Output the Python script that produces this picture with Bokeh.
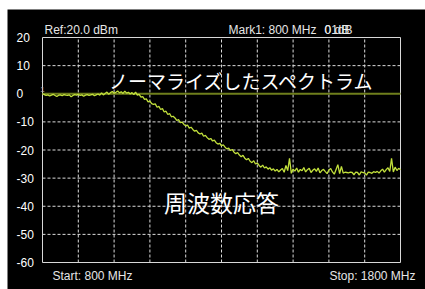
from bokeh.plotting import figure
from bokeh.models import Range1d, Label
from bokeh.embed import file_html
from bokeh.resources import INLINE

# ---- data ----
freq_mhz = list(range(800, 1805, 5))
trace_db = [
    0.0, -0.3, -0.6, -0.4, -0.8, -0.5, -0.2, -0.6, -1.0, -0.5,
    -0.4, -0.7, -0.3, -0.5, -0.6, -0.4, -1.1, -0.6, -0.3, -0.5,
    -0.2, -0.6, -0.4, -0.9, -0.5, -0.3, -0.6, -0.4, -0.2, -0.7,
    -0.4, -0.1, -0.5, 0.3, -0.4, 0.1, 0.6, -0.2, 0.4, 0.8,
    0.2, 0.5, 1.0, 0.3, 0.7, 0.1, 0.9, 0.2, 0.5, -0.1,
    0.4, -0.3, 0.6, -0.5, -0.2, -1.2, -1.0, -2.0, -1.8, -2.9,
    -2.6, -3.5, -3.8, -3.6, -4.8, -4.5, -5.6, -5.3, -6.5, -6.2,
    -7.4, -7.0, -8.2, -8.0, -8.6, -9.5, -9.2, -10.3, -10.1, -10.9,
    -11.4, -11.1, -12.2, -11.9, -12.7, -13.3, -13.0, -13.9, -14.3, -14.0,
    -15.1, -14.8, -15.6, -16.2, -15.9, -16.8, -16.5, -17.4, -17.9, -17.6,
    -18.5, -18.2, -19.0, -19.6, -19.3, -20.2, -19.8, -20.8, -21.3, -20.9,
    -21.8, -22.4, -21.9, -22.9, -23.5, -23.0, -24.0, -24.5, -23.8, -25.0,
    -24.6, -25.5, -26.1, -25.4, -26.4, -26.0, -26.8, -26.3, -27.2, -26.7,
    -27.5, -26.9, -27.8, -27.1, -26.6, -27.9, -25.5, -27.3, -23.0, -28.3,
    -26.8, -27.5, -26.4, -27.9, -26.9, -27.4, -26.2, -27.8, -27.0, -26.5,
    -28.0, -27.2, -26.7, -27.6, -26.4, -28.1, -27.3, -26.9, -27.7, -28.4,
    -27.1, -26.6, -27.8, -28.6, -26.9, -25.2, -28.4, -25.8, -28.2, -27.9,
    -28.0, -28.1, -27.9, -28.0, -28.8, -27.9, -28.0, -28.9, -27.8, -28.0,
    -28.1, -28.9, -27.9, -28.0, -28.3, -27.7, -28.0, -27.6, -28.2, -27.4,
    -26.8, -27.9, -27.0, -26.3, -27.6, -23.0, -27.8, -26.1, -27.3, -26.5,
    -27.0,
]
ref_level_db = 0
y_ticks = [20, 10, 0, -10, -20, -30, -40, -50, -60]
x_grid = [900, 1000, 1100, 1200, 1300, 1400, 1500, 1600, 1700]
y_grid = [10, -10, -20, -30, -40, -50]
start_text = "Start: 800 MHz"
stop_text = "Stop: 1800 MHz"
ref_text = "Ref:20.0 dBm"
mark_text = "Mark1: 800 MHz"
mark_val_a = "0 dB"
mark_val_b = "01dB"
title_top = "ノーマライズしたスペクトラム"
title_bottom = "周波数応答"

# ---- layout (canvas pixels) ----
W, H = 425, 289
BL, BT = 42, 37          # where the trace frame starts on the canvas
FW, FH = 358, 225        # trace frame size
PANEL_L, PANEL_T = 7, 9  # black instrument panel origin
X0, X1 = 800, 1800
Y0, Y1 = -60, 20


def fx(sx):  # canvas px -> data x
    return X0 + (sx - BL) * (X1 - X0) / FW


def fy(sy):  # canvas px -> data y
    return Y1 - (sy - BT) * (Y1 - Y0) / FH


p = figure(width=W, height=H, output_backend="svg", toolbar_location=None,
           x_range=Range1d(fx(0), fx(W)), y_range=Range1d(fy(H), fy(0)),
           min_border=0)
p.background_fill_color = "white"
p.border_fill_color = "white"
p.outline_line_color = None
p.xaxis.visible = False
p.yaxis.visible = False
p.grid.visible = False

# black instrument panel
p.quad(left=[fx(PANEL_L)], right=[fx(W + 2)], bottom=[fy(H + 2)], top=[fy(PANEL_T)],
       fill_color="black", line_color=None)

grid_color = "#dcdcdc"
p.segment(x0=x_grid, y0=[Y0] * len(x_grid), x1=x_grid, y1=[Y1] * len(x_grid),
          line_color=grid_color, line_dash="3 2", line_width=1)
p.segment(x0=[X0] * len(y_grid), y0=y_grid, x1=[X1] * len(y_grid), y1=y_grid,
          line_color=grid_color, line_dash="3 2", line_width=1)
p.quad(left=[X0], right=[X1], bottom=[Y0], top=[Y1], fill_color=None,
       line_color="#d8d8d8", line_width=1)

p.line([X0, X1], [ref_level_db, ref_level_db], line_color="#6f7f1c", line_width=2)
p.line(freq_mhz, trace_db, line_color="#c2e03c", line_width=1.3)

latin = "Liberation Sans"
for t in y_ticks:
    p.add_layout(Label(x=fx(16), y=t, text=str(t), text_font=latin,
                       text_font_size="12px", text_color="white",
                       text_baseline="middle", text_align="left"))

top_y = fy(29)
bot_y = fy(275)
txt = dict(text_font=latin, text_font_size="12px", text_color="#e6e6e6",
           text_baseline="middle")
p.add_layout(Label(x=fx(44), y=top_y, text=ref_text, **txt))
p.add_layout(Label(x=fx(228), y=top_y, text=mark_text, **txt))
p.add_layout(Label(x=fx(324), y=top_y, text=mark_val_a, **txt))
p.add_layout(Label(x=fx(324), y=top_y, text=mark_val_b, **txt))
p.add_layout(Label(x=fx(52), y=bot_y, text=start_text, **txt))
p.add_layout(Label(x=fx(415), y=bot_y, text=stop_text, text_align="right", **txt))
p.add_layout(Label(x=X0, y=ref_level_db + 1.6, text="1", text_font=latin,
                   text_font_size="8px", text_color="#bbbbbb",
                   text_baseline="middle", text_align="center"))

cjk = "Noto Sans CJK JP"
p.add_layout(Label(x=fx(241.5), y=fy(80), text=title_top, text_font=cjk,
                   text_font_size="19px", text_color="white",
                   text_baseline="middle", text_align="center"))
p.add_layout(Label(x=fx(221), y=fy(201), text=title_bottom, text_font=cjk,
                   text_font_size="23px", text_color="white",
                   text_baseline="middle", text_align="center"))

open("out.html", "w").write(file_html(p, INLINE))
